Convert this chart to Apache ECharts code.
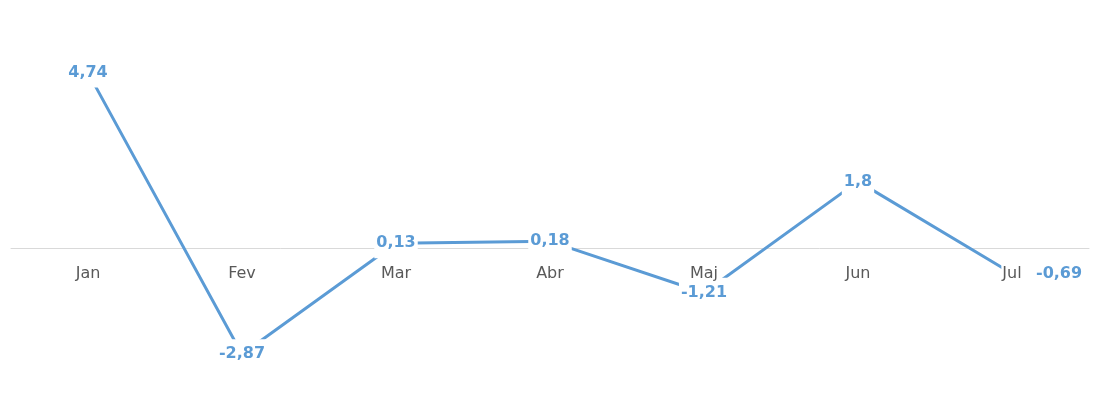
<!DOCTYPE html>
<html>
<head>
<meta charset="utf-8">
<script src="https://cdn.jsdelivr.net/npm/echarts@6/dist/echarts.min.js"></script>
<style>html,body{margin:0;padding:0;background:#fff;}#c{width:1110px;height:396px;}</style>
</head>
<body>
<div id="c"></div>
<script>
const months = ['Jan', 'Fev', 'Mar', 'Abr', 'Maj', 'Jun', 'Jul'];
const values = [4.74, -2.87, 0.13, 0.18, -1.21, 1.8, -0.69];
const labelPositions = ['inside', 'inside', 'inside', 'inside', 'inside', 'inside', 'right'];

const blue = '#5B9BD5';
const yMin = -4, yMax = 6, gridTop = 26, gridBottom = 0, H = 396;
const plotH = H - gridTop - gridBottom;
const zeroOffset = plotH * yMax / (yMax - yMin);

const chart = echarts.init(document.getElementById('c'));
chart.setOption({
  animation: false,
  backgroundColor: '#fff',
  grid: { left: 11, right: 21, top: gridTop, bottom: gridBottom, containLabel: false },
  xAxis: [
    {
      type: 'category', data: months, boundaryGap: true, z: 0,
      axisLine: { onZero: true, lineStyle: { color: '#d9d9d9', width: 1 } },
      axisTick: { show: false }, axisLabel: { show: false }, splitLine: { show: false }
    },
    {
      type: 'category', data: months, boundaryGap: true, position: 'top', offset: -zeroOffset, z: 5,
      axisLine: { show: false, onZero: false },
      axisTick: { show: false }, splitLine: { show: false },
      axisLabel: {
        inside: true, margin: 17, color: '#595959', fontSize: 16,
        fontFamily: 'DejaVu Sans', backgroundColor: '#fff', padding: [1, 1]
      }
    }
  ],
  yAxis: { type: 'value', min: yMin, max: yMax, show: false, splitLine: { show: false } },
  series: [{
    type: 'line', xAxisIndex: 0, z: 2,
    data: values.map((v, i) => ({
      value: v,
      label: { position: labelPositions[i], distance: labelPositions[i] === 'right' ? 22 : 5 }
    })),
    showSymbol: true, symbol: 'circle', symbolSize: 0,
    lineStyle: { color: blue, width: 3 },
    itemStyle: { color: blue },
    label: {
      show: true, color: blue, fontWeight: 'bold', fontSize: 16, fontFamily: 'DejaVu Sans',
      backgroundColor: '#fff', padding: [7, 2],
      formatter: p => String(p.value).replace('.', ',')
    }
  }]
});
</script>
</body>
</html>
